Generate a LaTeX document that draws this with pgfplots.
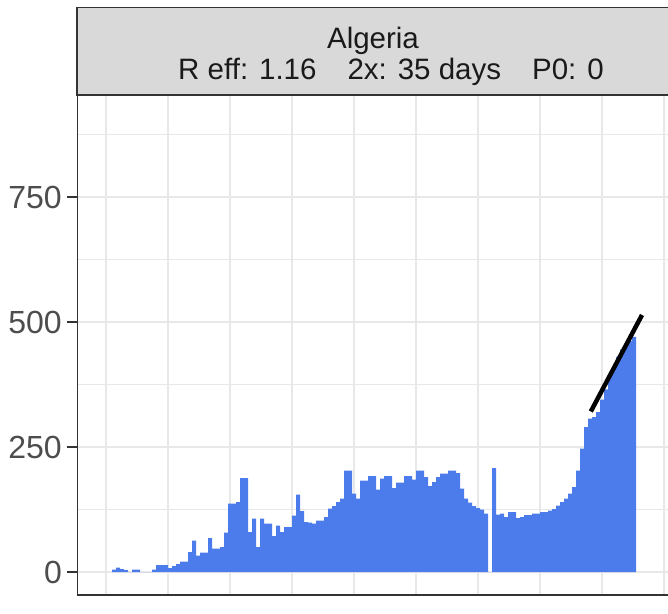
\documentclass[border=0pt]{standalone}
\usepackage{pgfplots}
\pgfplotsset{compat=1.18}
\usepackage{pgfplotstable}
\usepackage{fontspec}
\setmainfont{Liberation Sans}
\definecolor{barblue}{HTML}{4C7BEB}
\definecolor{gridgray}{HTML}{E8E8E8}
\definecolor{bordercol}{HTML}{333333}
\definecolor{stripcol}{HTML}{D9D9D9}
\definecolor{ticklab}{HTML}{4D4D4D}
\definecolor{striptext}{HTML}{1A1A1A}

\pgfplotstableread{
d v
0 5
1 9
2 6
3 4
4 0
5 5
6 5
7 0
8 0
9 0
10 5
11 14
12 14
13 14
14 8
15 12
16 16
17 21
18 21
19 40
20 63
21 33
22 39
23 39
24 68
25 47
26 47
27 50
28 79
29 137
30 137
31 140
32 188
33 188
34 80
35 107
36 50
37 107
38 97
39 97
40 72
41 93
42 80
43 90
44 90
45 113
46 155
47 122
48 100
49 99
50 97
51 103
52 103
53 110
54 127
55 132
56 140
57 147
58 203
59 203
60 157
61 147
62 183
63 183
64 192
65 192
66 165
67 187
68 192
69 192
70 168
71 179
72 179
73 192
74 192
75 185
76 203
77 203
78 190
79 172
80 180
81 190
82 197
83 197
84 203
85 203
86 198
87 167
88 147
89 139
90 132
91 128
92 125
93 117
94 0
95 208
96 115
97 117
98 110
99 120
100 120
101 108
102 110
103 114
104 114
105 117
106 117
107 120
108 120
109 123
110 126
111 133
112 140
113 147
114 157
115 170
116 203
117 247
118 290
119 307
120 310
121 320
122 345
123 365
124 390
125 410
126 430
127 445
128 455
129 462
130 470
}\casestable

\begin{document}
\begin{tikzpicture}[x=1pt,y=1pt]
\begin{axis}[
  at={(0,0)}, anchor=south west,
  scale only axis, width=591pt, height=500pt,
  xmin=-9.25, xmax=138.5, ymin=-46, ymax=954,
  axis line style={draw=none},
  xtick={-2,13.5,29,44.5,60,75.5,91,106.5,122,137.5}, xticklabels={},
  x tick style={draw=none},
  ytick={0,250,500,750}, minor ytick={125,375,625,875},
  ytick pos=left, tick align=outside,
  major tick length=10pt, minor tick length=0pt,
  y tick style={bordercol, line width=1.1pt},
  grid=both,
  major grid style={gridgray, line width=1.2pt},
  minor grid style={gridgray, line width=0.9pt},
  yticklabel style={font=\fontsize{32}{34}\selectfont, text=ticklab, inner sep=0pt, xshift=-5pt},
  /pgf/number format/assume math mode=true,
  /pgf/number format/1000 sep={},
]
\addplot[ybar, bar width=1, bar shift=0pt, fill=barblue, draw=none] table[x=d,y=v] {\casestable};
\addplot[black, line width=4.5pt, line cap=butt] coordinates {(119.2,321) (132,514)};
\draw[bordercol, line width=1.3pt] (rel axis cs:0,1) -- (rel axis cs:0,0) -- (rel axis cs:1,0);
\end{axis}
\draw[fill=stripcol, draw=bordercol, line width=1.3pt] (0,500) rectangle (600,587.3);
\node[anchor=base, inner sep=0pt, font=\fontsize{29.5}{30}\selectfont, text=striptext] at (296,546) {Algeria};
\node[anchor=base, inner sep=0pt, font=\fontsize{29.5}{30}\selectfont, text=striptext] at (314,515) {R eff: 1.16\hspace{31pt}2x: 35 days\hspace{31pt}P0: 0};
\pgfresetboundingbox
\useasboundingbox (-77,-18) rectangle (591,595);
\end{tikzpicture}
\end{document}
